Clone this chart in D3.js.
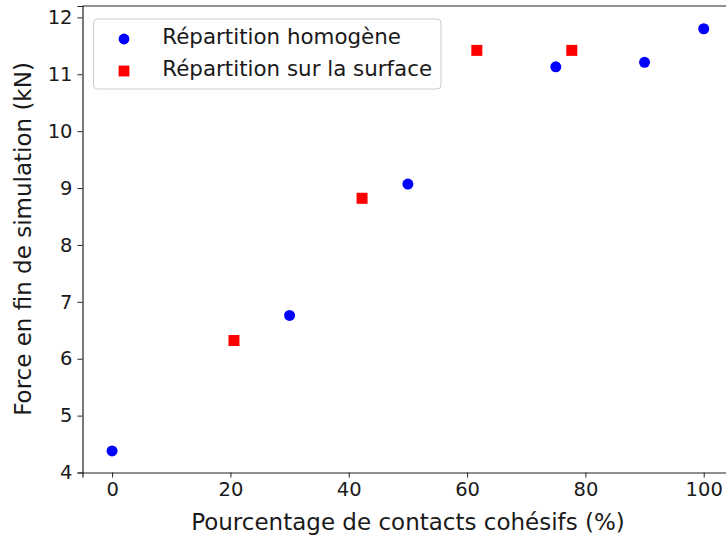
<!DOCTYPE html>
<html><head><meta charset="utf-8">
<script src="https://cdn.jsdelivr.net/npm/d3@7"></script>
<style>body{margin:0;background:#fff}svg{display:block;font-family:"DejaVu Sans",sans-serif}</style>
</head><body>
<script>
const homogeneX = [0, 30, 50, 75, 90, 100];
const homogeneY = [4.38, 6.76, 9.07, 11.13, 11.21, 11.80];
const surfaceX = [20.6, 42.25, 61.65, 77.7];
const surfaceY = [6.32, 8.82, 11.42, 11.42];
const xTicks = [0, 20, 40, 60, 80, 100];
const yTicks = [4, 5, 6, 7, 8, 9, 10, 11, 12];
const seriesNames = ["Répartition homogène", "Répartition sur la surface"];
const xLabel = "Pourcentage de contacts cohésifs (%)";
const yLabel = "Force en fin de simulation (kN)";

const W = 726, H = 538;
const svg = d3.select("body").append("svg").attr("width", W).attr("height", H);
const x = d3.scaleLinear().domain([-5, 105]).range([82.5, 733.3]);
const y = d3.scaleLinear().domain([4, 12.2]).range([472.5, 6]);

const axB = svg.append("g").attr("transform", "translate(0,472.5)")
  .call(d3.axisBottom(x).tickValues(xTicks).tickFormat(d3.format("d")).tickSize(5).tickPadding(5));
const axL = svg.append("g").attr("transform", "translate(82.5,0)")
  .call(d3.axisLeft(y).tickValues(yTicks).tickFormat(d3.format("d")).tickSize(5).tickPadding(5));
[axB, axL].forEach(a => {
  a.selectAll("text").attr("font-size", 19.5).attr("font-family", "DejaVu Sans").attr("fill", "#1a1a1a");
  a.selectAll("line").attr("stroke", "#222").attr("stroke-width", 1);
  a.select(".domain").attr("stroke", "#222").attr("stroke-width", 1.2);
});
// top spine
svg.append("line").attr("x1", 82.5).attr("x2", W).attr("y1", 6).attr("y2", 6).attr("stroke", "#222").attr("stroke-width", 1.2);

svg.append("g").selectAll("circle").data(homogeneX.map((d, i) => [d, homogeneY[i]])).join("circle")
  .attr("cx", d => x(d[0])).attr("cy", d => y(d[1])).attr("r", 5.5).attr("fill", "#0000ff");
const sq = 11;
svg.append("g").selectAll("rect").data(surfaceX.map((d, i) => [d, surfaceY[i]])).join("rect")
  .attr("x", d => x(d[0]) - sq / 2).attr("y", d => y(d[1]) - sq / 2).attr("width", sq).attr("height", sq).attr("fill", "#ff0000");

// legend
const lg = svg.append("g");
lg.append("rect").attr("x", 93.5).attr("y", 19).attr("width", 347.5).attr("height", 70).attr("rx", 4)
  .attr("fill", "#fff").attr("fill-opacity", 0.8).attr("stroke", "#cccccc");
lg.append("circle").attr("cx", 124).attr("cy", 39).attr("r", 5.4).attr("fill", "#0000ff");
lg.append("rect").attr("x", 124 - 5.4).attr("y", 71 - 5.4).attr("width", 10.8).attr("height", 10.8).attr("fill", "#ff0000");
lg.selectAll("text").data(seriesNames).join("text")
  .attr("x", 162.3).attr("y", (d, i) => i === 0 ? 44 : 76).attr("font-size", 21.4).attr("fill", "#1a1a1a").text(d => d);

svg.append("text").attr("x", 408).attr("y", 529.5).attr("text-anchor", "middle").attr("font-size", 23).attr("fill", "#1a1a1a").text(xLabel);
svg.append("text").attr("transform", "translate(31,239) rotate(-90)").attr("text-anchor", "middle").attr("font-size", 23).attr("fill", "#1a1a1a").text(yLabel);
</script>
</body></html>
